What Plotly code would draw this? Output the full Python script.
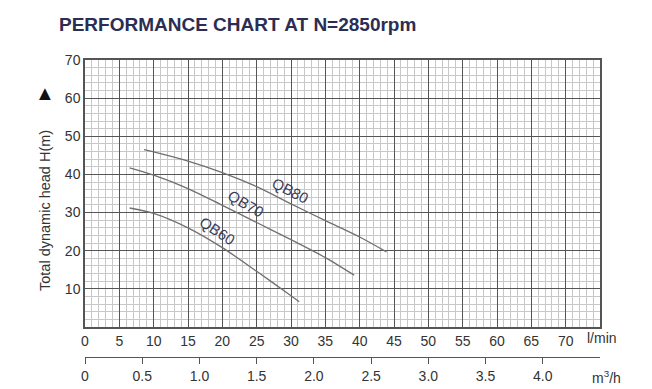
import plotly.graph_objects as go

# ---- data (flow in l/min, head in m) ----
qb80_flow = [8.6, 10, 15, 20, 25, 30, 35, 40, 43.9]
qb80_head = [46.5, 45.9, 43.5, 40.5, 36.8, 32.3, 27.9, 23.6, 19.7]
qb70_flow = [6.5, 10, 15, 20, 25, 30, 35, 39.2]
qb70_head = [41.7, 39.8, 36.3, 31.9, 27.4, 22.9, 18.2, 13.6]
qb60_flow = [6.5, 10, 15, 20, 25, 30, 31.2]
qb60_head = [31.2, 29.8, 26.0, 20.8, 14.6, 8.2, 6.6]

series_names = ["QB80", "QB70", "QB60"]
label_pos = {"QB80": (29.9, 35.7, 27), "QB70": (23.4, 32.5, 30), "QB60": (19.2, 25.2, 33)}

y_ticks = [10, 20, 30, 40, 50, 60, 70]
x_ticks = [0, 5, 10, 15, 20, 25, 30, 35, 40, 45, 50, 55, 60, 65, 70]
m3h_ticks = [0, 0.5, 1.0, 1.5, 2.0, 2.5, 3.0, 3.5, 4.0]
m3h_labels = ["0", "0.5", "1.0", "1.5", "2.0", "2.5", "3.0", "3.5", "4.0"]

W, H = 652, 389
ML, MR, MT, MB = 85, 52, 60, 20
PLOT_BOTTOM = 327
paper_h = H - MT - MB
paper_w = W - ML - MR

def px(x):
    return (x - ML) / paper_w

def py(y):
    return (H - MB - y) / paper_h

fig = go.Figure()
curve_color = "#707070"
for name, fx, hy in [("QB80", qb80_flow, qb80_head), ("QB70", qb70_flow, qb70_head), ("QB60", qb60_flow, qb60_head)]:
    fig.add_trace(go.Scatter(x=fx, y=hy, mode="lines", name=name,
                             line=dict(color=curve_color, width=1.3, shape="spline", smoothing=0.8),
                             showlegend=False, hoverinfo="skip"))

# invisible trace for second axis
fig.add_trace(go.Scatter(x=[0, 4.5], y=[0, 0], xaxis="x2", yaxis="y", mode="markers",
                         marker=dict(opacity=0), showlegend=False, hoverinfo="skip"))

text_col = "#333333"
for name in series_names:
    x, y, ang = label_pos[name]
    fig.add_annotation(x=x, y=y, text=name, textangle=ang, showarrow=False,
                       xanchor="center", yanchor="middle",
                       font=dict(family="Liberation Sans, Arial", size=15, color="#3a3d5a"))

dom0 = py(PLOT_BOTTOM)
fig.update_layout(
    width=W, height=H, margin=dict(l=ML, r=MR, t=MT, b=MB, autoexpand=False),
    paper_bgcolor="white", plot_bgcolor="white",
    font=dict(family="Liberation Sans, Arial", size=14, color=text_col),
    xaxis=dict(range=[0, 75], tickvals=x_ticks, showgrid=True, gridcolor="#555555", gridwidth=1.2,
               minor=dict(dtick=1, tick0=0, showgrid=True, gridcolor="#c8c8c8", gridwidth=1),
               showline=True, linecolor="#555555", linewidth=1.5, mirror=True, ticks="",
               zeroline=False, tickfont=dict(size=14, color=text_col), anchor="y",
               automargin=False),
    yaxis=dict(range=[0, 70], domain=[dom0, 1], tickvals=y_ticks, showgrid=True,
               gridcolor="#555555", gridwidth=1.2,
               minor=dict(dtick=2, tick0=0, showgrid=True, gridcolor="#c8c8c8", gridwidth=1),
               showline=True, linecolor="#555555", linewidth=1.5, mirror=True, ticks="",
               zeroline=False, tickfont=dict(size=14, color=text_col), automargin=False),
    xaxis2=dict(range=[0, 4.5], overlaying="x", anchor="free", position=py(357),
                tickvals=m3h_ticks, ticktext=m3h_labels, ticks="outside", ticklen=6,
                tickcolor="#555555", showline=True, linecolor="#555555", linewidth=1.2,
                showgrid=False, zeroline=False, tickfont=dict(size=14, color=text_col),
                automargin=False),
)

fig.add_annotation(xref="paper", yref="paper", x=px(57), y=py(24), xanchor="left", yanchor="middle",
                   text="<b>PERFORMANCE CHART AT N=2850rpm</b>", showarrow=False,
                   font=dict(family="Liberation Sans, Arial", size=19, color="#2b2e52"))
fig.add_annotation(xref="paper", yref="paper", x=px(45), y=py(211), textangle=-90,
                   xanchor="center", yanchor="middle",
                   text="Total dynamic head H(m)", showarrow=False,
                   font=dict(size=14.5, color=text_col))
fig.add_annotation(xref="paper", yref="paper", x=px(45), y=py(93),
                   xanchor="center", yanchor="middle",
                   text="▲", showarrow=False, font=dict(size=20, color="#111111"))
fig.add_annotation(xref="paper", yref="paper", x=px(585), y=py(338), xanchor="left", yanchor="middle",
                   text="l/min", showarrow=False, font=dict(size=14, color=text_col))
fig.add_annotation(xref="paper", yref="paper", x=px(590), y=py(377), xanchor="left", yanchor="middle",
                   text="m<sup>3</sup>/h", showarrow=False, font=dict(size=14, color=text_col))

fig.write_html("out.html", config={"displayModeBar": False},
               post_script="document.body.style.margin='0';document.body.style.padding='0';")
